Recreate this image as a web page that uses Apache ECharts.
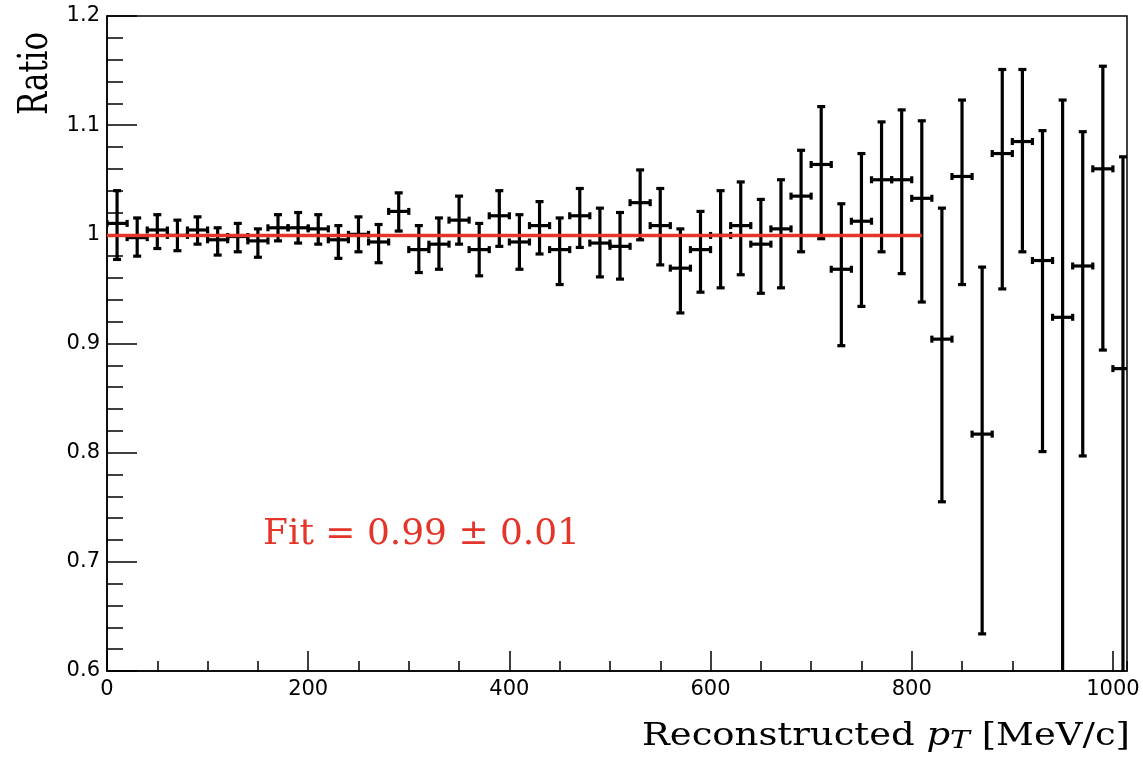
<!DOCTYPE html>
<html>
<head>
<meta charset="utf-8">
<script src="https://cdn.jsdelivr.net/npm/echarts@6/dist/echarts.min.js"></script>
<style>
html,body{margin:0;padding:0;background:#fff;}
#chart{width:1143px;height:758px;}
</style>
</head>
<body>
<div id="chart"></div>
<script>
// ---------------- data ----------------
const binCenters = [10, 30, 50, 70, 90, 110, 130, 150, 170, 190,
                    210, 230, 250, 270, 290, 310, 330, 350, 370, 390,
                    410, 430, 450, 470, 490, 510, 530, 550, 570, 590,
                    610, 630, 650, 670, 690, 710, 730, 750, 770, 790,
                    810, 830, 850, 870, 890, 910, 930, 950, 970, 990, 1010];
const ratio = [1.010, 0.997, 1.004, 0.999, 1.004, 0.995, 0.998, 0.994, 1.006, 1.006,
               1.005, 0.995, 1.000, 0.993, 1.021, 0.986, 0.991, 1.013, 0.986, 1.017,
               0.993, 1.008, 0.986, 1.017, 0.992, 0.989, 1.029, 1.008, 0.969, 0.986,
               0.999, 1.008, 0.991, 1.005, 1.035, 1.064, 0.968, 1.012, 1.050, 1.050,
               1.033, 0.904, 1.053, 0.817, 1.074, 1.085, 0.976, 0.924, 0.971, 1.060, 0.877];
const errLow = [0.977, 0.980, 0.987, 0.985, 0.991, 0.981, 0.984, 0.979, 0.994, 0.992,
                0.991, 0.978, 0.984, 0.974, 1.003, 0.965, 0.968, 0.991, 0.962, 0.989,
                0.968, 0.982, 0.954, 0.988, 0.961, 0.959, 0.995, 0.972, 0.928, 0.947,
                0.951, 0.963, 0.946, 0.951, 0.984, 0.996, 0.898, 0.934, 0.984, 0.964,
                0.938, 0.755, 0.954, 0.634, 0.950, 0.984, 0.801, 0.560, 0.797, 0.894, 0.560];
const errHigh = [1.040, 1.015, 1.018, 1.013, 1.016, 1.006, 1.010, 1.005, 1.018, 1.020,
                 1.018, 1.008, 1.016, 1.009, 1.038, 1.008, 1.015, 1.035, 1.010, 1.040,
                 1.018, 1.030, 1.015, 1.042, 1.024, 1.020, 1.059, 1.042, 1.005, 1.021,
                 1.040, 1.048, 1.032, 1.050, 1.077, 1.117, 1.028, 1.074, 1.103, 1.114,
                 1.104, 1.024, 1.123, 0.970, 1.151, 1.151, 1.095, 1.123, 1.094, 1.154, 1.071];
const binWidth = 20;
const fitRange = [0, 810];
const fitValue = 0.999;
const fitLabel = 'Fit = 0.99 \u00b1 0.01';
const xTickValues = [0, 200, 400, 600, 800, 1000];
const yTickValues = [0.6, 0.7, 0.8, 0.9, 1.0, 1.1, 1.2];
const xRange = [0, 1014];
const yRange = [0.6, 1.2];
const xTitle = ['Reconstructed ', 'p', 'T', ' [MeV/c]'];
const yTitle = 'Ratio';
// ------------------------------------------------------------------------

const RED = '#e3352a';
const SERIF = '"DejaVu Serif"';
function textWidth(str, font) {
  const ctx = document.createElement('canvas').getContext('2d');
  ctx.font = font;
  return ctx.measureText(str).width;
}

const chart = echarts.init(document.getElementById('chart'), null, {renderer: 'canvas'});

function renderErrorBar(params, api) {
  const x = api.value(0), y = api.value(1), lo = api.value(2), hi = api.value(3);
  const c = api.coord([x, y]);
  const l = api.coord([x - binWidth / 2, y]);
  const r = api.coord([x + binWidth / 2, y]);
  const b = api.coord([x, lo]);
  const t = api.coord([x, hi]);
  const cw = 4, ch = 3.5;
  const st = {stroke: '#000', lineWidth: 3.2, fill: null};
  return {
    type: 'group',
    children: [
      {type: 'line', shape: {x1: l[0], y1: c[1], x2: r[0], y2: c[1]}, style: st},
      {type: 'line', shape: {x1: c[0], y1: t[1], x2: c[0], y2: b[1]}, style: st},
      {type: 'line', shape: {x1: c[0] - cw, y1: t[1], x2: c[0] + cw, y2: t[1]}, style: st},
      {type: 'line', shape: {x1: c[0] - cw, y1: b[1], x2: c[0] + cw, y2: b[1]}, style: st},
      {type: 'line', shape: {x1: l[0], y1: c[1] - ch, x2: l[0], y2: c[1] + ch}, style: st},
      {type: 'line', shape: {x1: r[0], y1: c[1] - ch, x2: r[0], y2: c[1] + ch}, style: st}
    ]
  };
}

// text scaling to reproduce the stretched look of the reference
const fitFont = '35px ' + SERIF;
const fitScale = 317 / textWidth(fitLabel, fitFont);

const xtSize = 31, xtSubSize = 25;
const xtW = textWidth(xTitle[0], xtSize + 'px ' + SERIF) +
            textWidth(xTitle[1], 'italic ' + xtSize + 'px ' + SERIF) +
            textWidth(xTitle[2], 'italic ' + xtSubSize + 'px ' + SERIF) +
            textWidth(xTitle[3], xtSize + 'px ' + SERIF);
const xtScale = 488 / xtW;

const ytSize = 31;
const ytScale = 83 / textWidth(yTitle, ytSize + 'px ' + SERIF);

const option = {
  animation: false,
  backgroundColor: '#fff',
  grid: {left: 107, right: 16, top: 16, bottom: 87, show: true, borderColor: '#000', borderWidth: 1.5, backgroundColor: 'transparent'},
  xAxis: [
    {
      type: 'value', min: xRange[0], max: xRange[1], interval: 200,
      axisLine: {show: true, lineStyle: {color: '#000', width: 1.5}},
      axisTick: {show: true, inside: true, length: 20, customValues: xTickValues, lineStyle: {color: '#000', width: 1.5}},
      axisLabel: {show: true, customValues: xTickValues, color: '#000', fontFamily: 'DejaVu Sans', fontSize: 21, margin: 8,
        formatter: function (v) { return String(Math.round(v)); }},
      splitLine: {show: false}
    },
    {
      type: 'value', min: xRange[0], max: xRange[1], interval: 50, position: 'bottom',
      axisLine: {show: false},
      axisTick: {show: true, inside: true, length: 10, lineStyle: {color: '#000', width: 1.5}},
      axisLabel: {show: false},
      splitLine: {show: false}
    }
  ],
  yAxis: [
    {
      type: 'value', min: yRange[0], max: yRange[1], interval: 0.1,
      axisLine: {show: true, lineStyle: {color: '#000', width: 1.5}},
      axisTick: {show: true, inside: true, length: 30, customValues: yTickValues, lineStyle: {color: '#000', width: 1.5}},
      minorTick: {show: true, splitNumber: 5, length: 16, lineStyle: {color: '#000', width: 1.5}},
      axisLabel: {show: true, customValues: yTickValues, color: '#000', fontFamily: 'DejaVu Sans', fontSize: 21, margin: 7,
        formatter: function (v) { return String(Math.round(v * 10) / 10); }},
      splitLine: {show: false},
      minorSplitLine: {show: false}
    }
  ],
  series: [
    {
      type: 'custom',
      name: 'Ratio',
      xAxisIndex: 0, yAxisIndex: 0,
      clip: true,
      renderItem: renderErrorBar,
      encode: {x: 0, y: 1},
      data: binCenters.map(function (x, i) { return [x, ratio[i], errLow[i], errHigh[i]]; }),
      z: 3
    },
    {
      type: 'line',
      name: 'Fit',
      xAxisIndex: 0, yAxisIndex: 0,
      data: [[fitRange[0], fitValue], [fitRange[1], fitValue]],
      showSymbol: false, symbol: 'none',
      lineStyle: {color: RED, width: 3.5},
      z: 4
    }
  ],
  graphic: [
    {
      type: 'text', x: 263, y: 535, scaleX: fitScale,
      style: {text: fitLabel, font: fitFont, fill: RED, align: 'left', verticalAlign: 'middle'}
    },
    {
      type: 'text', x: 642, y: 737, scaleX: xtScale,
      style: {
        text: xTitle[0] + '{i|' + xTitle[1] + '}{s|' + xTitle[2] + '}' + xTitle[3],
        fontFamily: 'DejaVu Serif', fontSize: xtSize, fill: '#000', align: 'left', verticalAlign: 'middle',
        lineHeight: 34,
        rich: {
          i: {fontFamily: 'DejaVu Serif', fontStyle: 'italic', fontSize: xtSize, lineHeight: 34},
          s: {fontFamily: 'DejaVu Serif', fontStyle: 'italic', fontSize: xtSubSize, lineHeight: 22, verticalAlign: 'bottom'}
        }
      }
    },
    {
      type: 'text', x: 37, y: 115, rotation: Math.PI / 2, scaleX: ytScale, scaleY: 1.3,
      style: {text: yTitle, fontFamily: 'DejaVu Serif', fontSize: ytSize, fill: '#000', align: 'left', verticalAlign: 'middle'}
    }
  ]
};
chart.setOption(option);
</script>
</body>
</html>
